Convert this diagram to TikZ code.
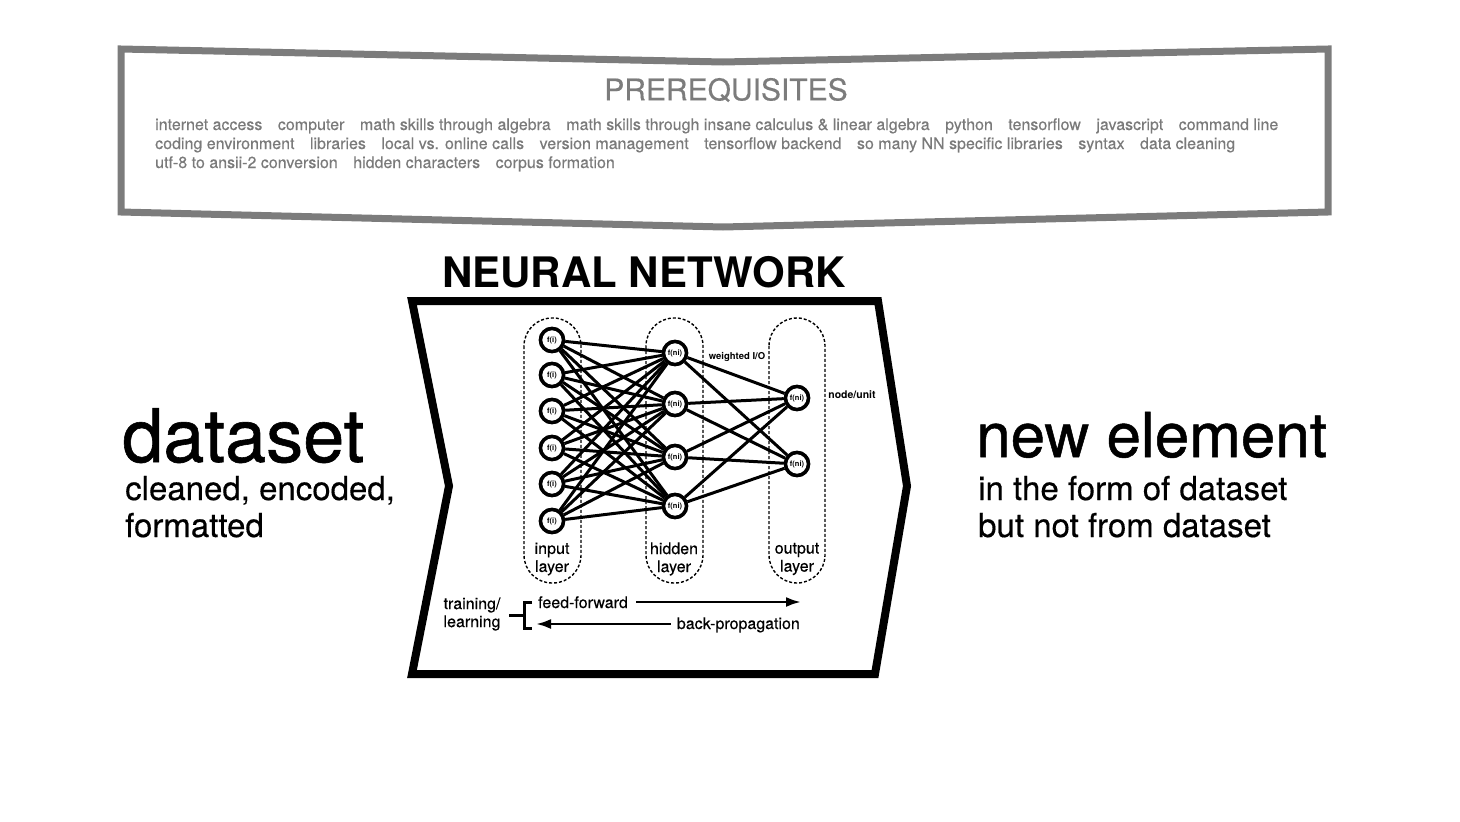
\documentclass[tikz,border=0pt]{standalone}
\usepackage{fontspec}
\setmainfont{TeX Gyre Heros}
\newfontfamily\medfont[FakeBold=0.8]{TeX Gyre Heros}
\newfontfamily\semifont[FakeBold=0.35]{TeX Gyre Heros}
\usetikzlibrary{arrows.meta}
\definecolor{pgray}{HTML}{7C7C7C}
\definecolor{ptext}{HTML}{7A7A7A}
\newcommand{\fs}[1]{\fontsize{#1}{#1}\selectfont}
\newcommand{\gap}{\hspace{15.5pt}}
\tikzset{
  prebox/.style={draw=pgray, line width=7pt, line join=miter},
  nnbox/.style={draw=black, line width=8pt, line join=miter},
  pill/.style={draw=black, line width=1.4pt, dash pattern=on 3pt off 2pt, rounded corners=28pt},
  unit/.style={circle, draw=black, fill=white, line width=3.5pt, minimum size=23pt, inner sep=0pt, font=\bfseries\fs{7.5}},
  conn/.style={draw=black, line width=3pt},
  flow/.style={draw=black, line width=2.6pt, -{Latex[length=15pt,width=10pt]}},
  lbl/.style={inner sep=0pt, font=\semifont\fontsize{16}{18}\selectfont, align=center},
  pre/.style={anchor=base west, inner sep=0pt, text=ptext, font=\semifont\fs{16}},
  big/.style={anchor=base west, inner sep=0pt, text depth=0pt, font=\medfont\fs{#1}},
  sub/.style={anchor=base west, inner sep=0pt, text depth=0pt, font=\semifont\fs{33}}
}
\begin{document}
\begin{tikzpicture}[x=1pt,y=-1pt]
\useasboundingbox (0,0) rectangle (1460,822);

% prerequisites box
\draw[prebox] (121,49) -- (723,62) -- (1328,49) -- (1328,212) -- (723,227) -- (121,212) -- cycle;
\node[inner sep=0pt, text=pgray, font=\semifont\fs{30}] (pretitle) at (726,90) {PREREQUISITES};
\node[pre] (pre1) at (155,130) {internet access\gap computer\gap math skills through algebra\gap math skills through insane calculus \& linear algebra\gap python\gap tensorflow\gap javascript\gap command line};
\node[pre] (pre2) at (155,149) {coding environment\gap libraries\gap local vs. online calls\gap version management\gap tensorflow backend\gap so many NN specific libraries\gap syntax\gap data cleaning};
\node[pre] (pre3) at (155,168) {utf-8 to ansii-2 conversion\gap hidden characters\gap corpus formation};

% neural network box
\node[inner sep=0pt, font=\bfseries\fs{42}] (nntitle) at (644,272) {NEURAL NETWORK};
\draw[nnbox] (412,301) -- (878,301) -- (907,486) -- (875,674) -- (412,674) -- (449,486) -- cycle;

% left / right texts
\node[big=74] (dataset) at (122,462) {dataset};
\node[sub] (ds1) at (125,500) {cleaned, encoded,};
\node[sub] (ds2) at (125,537) {formatted};
\node[big=62] (newel) at (976,457) {new element};
\node[sub] (ne1) at (978,500) {in the form of dataset};
\node[sub] (ne2) at (978,537) {but not from dataset};

% layer pills
\draw[pill] (524,318) rectangle (581,583);
\draw[pill] (646,318) rectangle (703,583);
\draw[pill] (769,318) rectangle (825,583);

% units
\foreach \n/\y in {1/340,2/375,3/411,4/448,5/484,6/521}
  \node[unit] (i\n) at (552,\y) {f(i)};
\foreach \n/\y in {1/353,2/404,3/457,4/506}
  \node[unit] (h\n) at (675,\y) {f(ni)};
\foreach \n/\y in {1/398,2/464}
  \node[unit] (o\n) at (797,\y) {f(ni)};

\foreach \a in {1,...,6}
  \foreach \b in {1,...,4}
    \draw[conn] (i\a) -- (h\b);
\foreach \a in {1,...,4}
  \foreach \b in {1,2}
    \draw[conn] (h\a) -- (o\b);

% redraw units on top of connectors
\foreach \n in {1,...,6}
  \node[unit] at (i\n) {f(i)};
\foreach \n in {1,...,4}
  \node[unit] at (h\n) {f(ni)};
\foreach \n in {1,2}
  \node[unit] at (o\n) {f(ni)};

\node[inner sep=0pt, font=\bfseries\fs{9.5}] (wio) at (737,357) {weighted I/O};
\node[inner sep=0pt, font=\bfseries\fs{10.5}] (nu) at (852,395) {node/unit};

\node[lbl] (linput) at (552,559) {input\\layer};
\node[lbl] (lhidden) at (674,559) {hidden\\layer};
\node[lbl] (loutput) at (797,559) {output\\layer};

% training
\node[lbl] (train) at (472,614) {training/\\learning};
\coordinate (bl) at (509,615);
\coordinate (br) at (524,615);
\coordinate (bt) at (524,602);
\coordinate (bb) at (524,628);
\draw[line width=3pt] (bl) -- (br);
\draw[line width=3pt] ([xshift=8pt]bt) -- (bt) -- (bb) -- ([xshift=8pt]bb);
\node[anchor=base west, inner sep=0pt, font=\semifont\fs{16}] (ff) at (538,608) {feed-forward};
\node[anchor=base east, inner sep=0pt, font=\semifont\fs{16}] (bp) at (800,629) {back-propagation};
\coordinate (ffend) at (801,602);
\coordinate (bpend) at (536,624);
\draw[flow] ([xshift=8pt]ff.east |- ffend) -- (ffend);
\draw[flow] ([xshift=-6pt]bp.west |- bpend) -- (bpend);
\end{tikzpicture}
\end{document}
